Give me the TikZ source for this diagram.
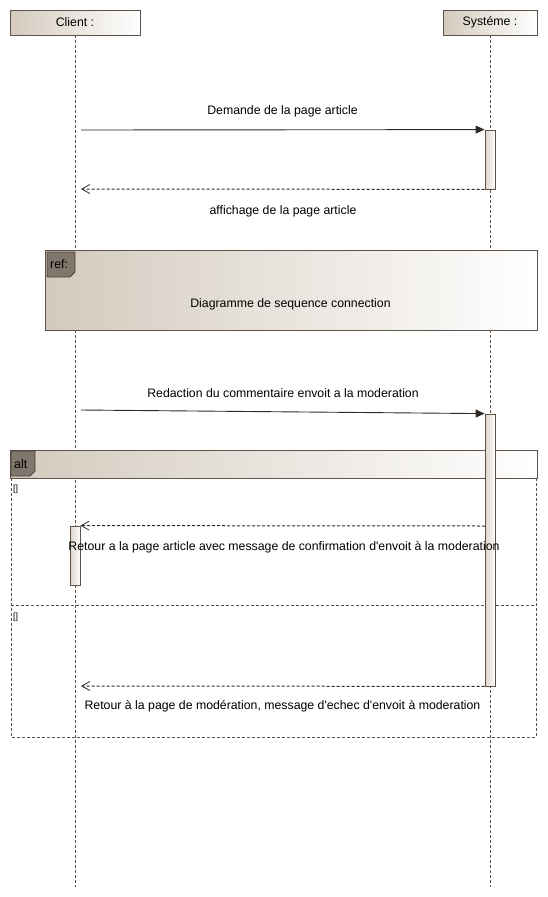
\documentclass[tikz,border=0pt]{standalone}
\usepackage{fontspec}
\setmainfont{Liberation Sans}[Ligatures=TeXOff]
\usepackage{xcolor}
\usetikzlibrary{arrows.meta}
\definecolor{edge}{HTML}{5F5248}
\definecolor{ink}{HTML}{2F2A25}
\definecolor{beige}{HTML}{D3CABD}
\definecolor{tagfill}{HTML}{7F766C}
\tikzset{
  lifebox/.style={rectangle,draw=edge,line width=0.8pt,left color=beige,right color=white,minimum height=25pt,inner sep=0pt},
  lifeline/.style={draw=edge,line width=0.9pt,dash pattern=on 3pt off 2pt},
  actbar/.style={rectangle,draw=edge,line width=0.8pt,left color=beige!80,right color=white,minimum width=10pt,inner sep=0pt},
  call/.style={draw=ink,line width=0.9pt,-{Triangle[length=9pt,width=8pt]}},
  reply/.style={draw=ink,line width=1pt,dash pattern=on 3pt off 2pt,-{Straight Barb[length=8pt,width=9pt,line width=0.8pt]}},
  msg/.style={font=\fontsize{12.3}{14}\selectfont,inner sep=0pt},
  tag/.style={draw=edge!80!black,line width=0.8pt,fill=tagfill},
}
\begin{document}
\begin{tikzpicture}[x=1pt,y=-1pt]
\useasboundingbox (0,0) rectangle (548,897);
\node at (75,22.5) [lifebox,minimum width=130pt] (client) {\fontsize{12.3}{14}\selectfont Client :};
\node at (490,22.5) [lifebox,minimum width=94pt] (systeme) {\fontsize{12.3}{14}\selectfont Systéme :};
\coordinate (clientend) at (75,887);
\coordinate (systemeend) at (490,887);
\draw[lifeline] (client) -- (clientend);
\draw[lifeline] (systeme) -- (systemeend);

\node at (291,290) [rectangle,draw=edge,line width=0.8pt,left color=beige,right color=white,minimum width=492pt,minimum height=80pt] (ref) {};
\draw[tag] (47,252) -- (75,252) -- (75,272) -- (70,277) -- (47,277) -- cycle;
\node at (50,264.5) [msg,anchor=west] (reftag) {ref:};
\node at (290.5,304) [msg] (reftext) {Diagramme de sequence connection};

\node at (273.5,464) [rectangle,draw=edge,line width=0.8pt,left color=beige,right color=white,minimum width=527pt,minimum height=28pt] (alt) {};
\draw[edge,line width=0.9pt,dash pattern=on 3pt off 2pt] (11,478) rectangle (536,737);
\draw[edge,line width=0.9pt,dash pattern=on 3pt off 2pt] (11,605) -- (536,605);
\draw[tag] (11,451) -- (35,451) -- (35,471) -- (30,476) -- (11,476) -- cycle;
\node at (14,464) [msg,anchor=west] (alttag) {alt};
\node at (13,489) [msg,anchor=west,font=\fontsize{9}{10}\selectfont] (guard1) {[]};
\node at (13,617) [msg,anchor=west,font=\fontsize{9}{10}\selectfont] (guard2) {[]};

\node at (490,159.5) [actbar,minimum height=59pt] (act1) {};
\node at (490,550) [actbar,minimum height=272pt] (act2) {};
\node at (75,555.5) [actbar,minimum height=59pt] (act3) {};

\coordinate (m1start) at (81,130);
\coordinate (r1end) at (81,189);
\coordinate (m2start) at (81,410);
\coordinate (r3end) at (81,686);
\coordinate (r2start) at (485,526);

\draw[call] (m1start) -- (act1.north west);
\draw[reply] (act1.south west) -- (r1end);
\draw[call] (m2start) -- (act2.north west);
\draw[reply] (r2start) -- (act3.north east);
\draw[reply] (act2.south west) -- (r3end);

\node at (282.5,111.5) [msg] (m1label) {Demande de la page article};
\node at (283,211.5) [msg] (r1label) {affichage de la page article};
\node at (283,393.5) [msg] (m2label) {Redaction du commentaire envoit a la moderation};
\node at (284,547.5) [msg] (r2label) {Retour a la page article avec message de confirmation d'envoit à la moderation};
\node at (282.5,706.5) [msg] (r3label) {Retour à la page de modération, message d'echec d'envoit à moderation};
\end{tikzpicture}
\end{document}
